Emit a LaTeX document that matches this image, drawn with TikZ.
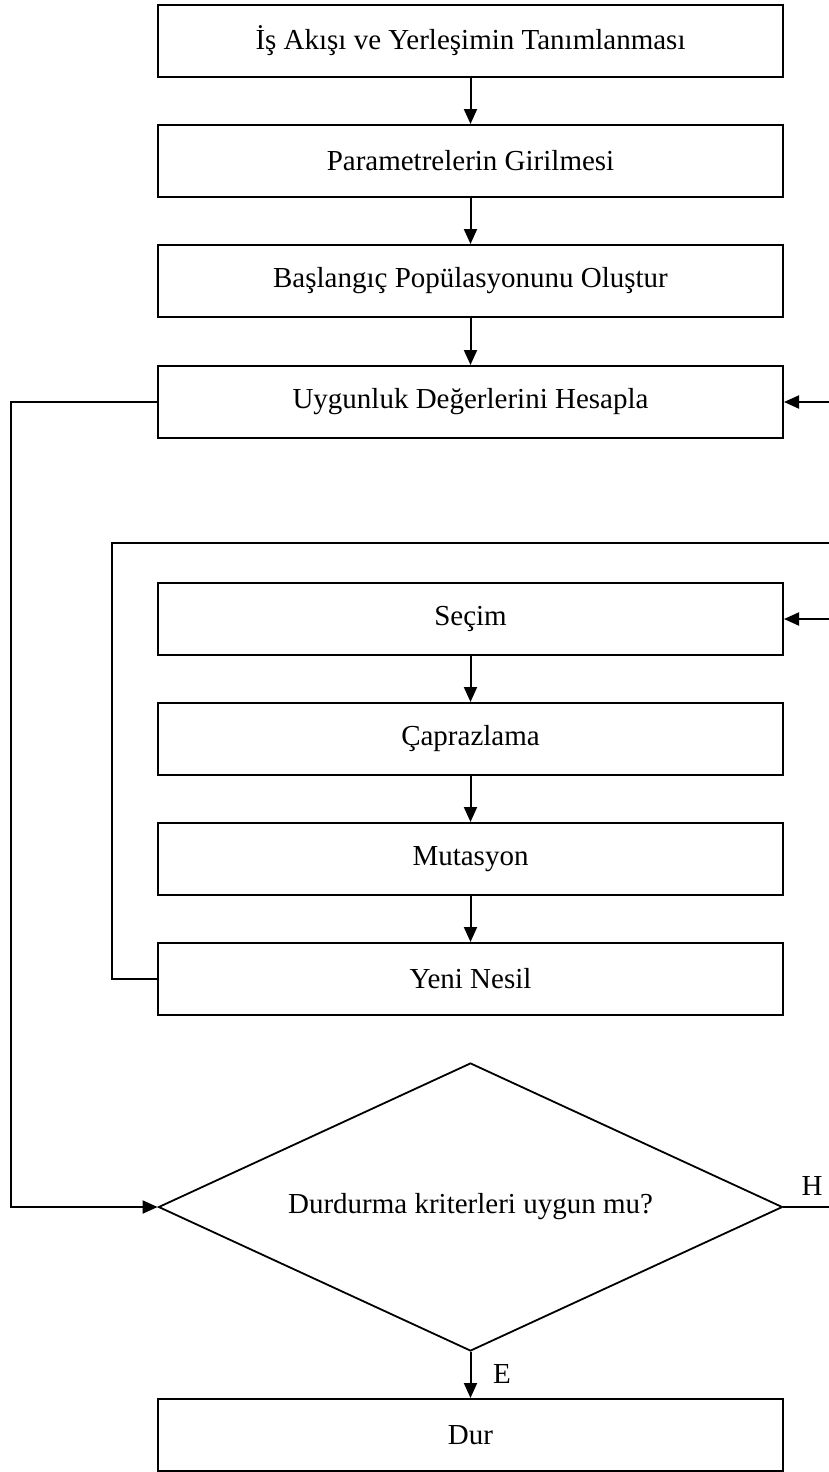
\documentclass[tikz,border=0pt]{standalone}
\usepackage{fontspec}
\setmainfont{Liberation Serif}
\usetikzlibrary{shapes.geometric,arrows.meta}
\begin{document}
\begin{tikzpicture}[x=0.5pt,y=-0.5pt,
  every node/.style={font=\fontsize{14.5}{17}\selectfont},
  stepbox/.style={draw,line width=1pt,minimum width=312.5pt,minimum height=36pt,inner sep=0pt},
  decision/.style={draw,line width=0.9pt,diamond,aspect=2.1667,inner sep=0pt,minimum width=312pt,minimum height=144pt},
  link/.style={line width=1pt},
  flow/.style={line width=1pt,-{Triangle[length=7.5pt,width=6.5pt]}},
  tag/.style={inner sep=1pt}]
\useasboundingbox (0,0) rectangle (829,1472);

% main steps
\node[stepbox] (tanim)  at (470.5,41)  {İş Akışı ve Yerleşimin Tanımlanması};
\node[stepbox] (param)  at (470.5,161) {Parametrelerin Girilmesi};
\node[stepbox] (baslat) at (470.5,281) {Başlangıç Popülasyonunu Oluştur};
\node[stepbox] (uygun)  at (470.5,402) {Uygunluk Değerlerini Hesapla};

% genetic operators
\node[stepbox] (secim)  at (470.5,619) {Seçim};
\node[stepbox] (capraz) at (470.5,739) {Çaprazlama};
\node[stepbox] (mutas)  at (470.5,859) {Mutasyon};
\node[stepbox] (nesil)  at (470.5,979) {Yeni Nesil};

% stopping test and end
\node[decision] (karar) at (470.5,1207) {Durdurma kriterleri uygun mu?};
\node[stepbox] (dur) at (470.5,1435) {Dur};

% loose ends at the right margin
\coordinate (rUygun) at (829,402);
\coordinate (rLoop)  at (829,543);
\coordinate (rSecim) at (829,619);
\coordinate (rHayir) at (829,1207);
\coordinate (lLoop)  at (11,402);
\coordinate (iLoop)  at (112,979);

% straight flow
\draw[flow] (tanim) -- (param);
\draw[flow] (param) -- (baslat);
\draw[flow] (baslat) -- (uygun);
\draw[flow] (secim) -- (capraz);
\draw[flow] (capraz) -- (mutas);
\draw[flow] (mutas) -- (nesil);
\draw[flow] (karar) -- (dur);

% feedback lines
\draw[flow] (rUygun) -- (uygun.east);
\draw[flow] (rSecim) -- (secim.east);
\draw[link] (nesil.west) -- (iLoop) |- (rLoop);
\draw[flow] (uygun.west) -- (lLoop) |- (karar.west);
\draw[link] (karar.east) -- (rHayir);

% answer labels
\node[tag] (evet)  at (502,1374) {E};
\node[tag] (hayir) at (812,1186) {H};
\end{tikzpicture}
\end{document}
